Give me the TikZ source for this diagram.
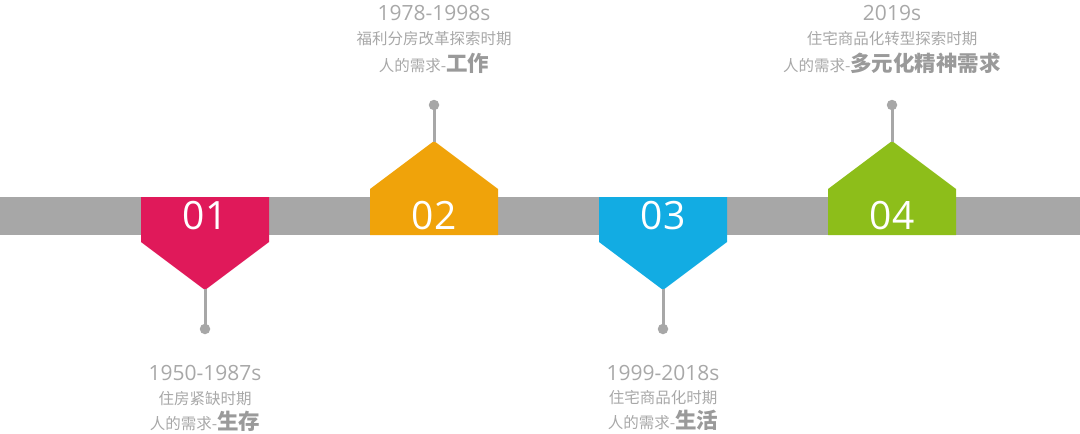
\documentclass[tikz,border=0pt]{standalone}
\usepackage{fontspec}
\setmainfont{Open Sans}
\newfontfamily\cjk{Noto Sans CJK SC}
\definecolor{barg}{HTML}{A7A7A7}
\definecolor{txtg}{HTML}{A8A8A8}
\definecolor{boldg}{HTML}{9A9A9A}
\definecolor{cpink}{HTML}{E0195A}
\definecolor{corange}{HTML}{F0A30A}
\definecolor{cblue}{HTML}{12ACE3}
\definecolor{cgreen}{HTML}{8DBE1A}
\tikzset{
  numtxt/.style={text=white, font=\fontsize{39}{39}\selectfont, inner sep=0pt},
  yeartxt/.style={text=txtg, font=\fontsize{21}{21}\selectfont, inner sep=0pt},
  eratxt/.style={text=txtg, font=\cjk\fontsize{15.5}{15.5}\selectfont, inner sep=0pt},
  needtxt/.style={text=txtg, font=\cjk\fontsize{15.5}{15.5}\selectfont, inner sep=0pt},
  stem/.style={draw=barg, line width=3pt},
  dotnode/.style={circle, fill=barg, minimum size=10.5pt, inner sep=0pt},
}
\newcommand{\bneed}[1]{{\bfseries\color{boldg}\fontsize{21.5}{21.5}\selectfont #1}}
\begin{document}
\begin{tikzpicture}[x=1pt,y=-1pt]
\useasboundingbox (0,0) rectangle (1080,434);
\fill[barg] (0,197) rectangle (1080,235);

% 01 (down)
\fill[cpink] (141,197) -- (269,197) -- (269,242) -- (205,290) -- (141,242) -- cycle;
\coordinate (t1) at (205,289);
\node[numtxt] (n1) at (205,216) {01};
\node[dotnode] (d1) at (205,329) {};
\draw[stem] (t1) -- (d1.center);
\node[yeartxt] (y1) at (205,373) {1950-1987s};
\node[eratxt] (e1) at (205,399) {住房紧缺时期};
\node[needtxt] (h1) at (205,421) {人的需求-\bneed{生存}};

% 02 (up)
\fill[corange] (370,235) -- (498,235) -- (498,189) -- (434,141) -- (370,189) -- cycle;
\coordinate (t2) at (434,142);
\node[numtxt] (n2) at (434,216) {02};
\node[dotnode] (d2) at (434,105) {};
\draw[stem] (t2) -- (d2.center);
\node[yeartxt] (y2) at (434,13) {1978-1998s};
\node[eratxt] (e2) at (434,39) {福利分房改革探索时期};
\node[needtxt] (h2) at (434,63) {人的需求-\bneed{工作}};

% 03 (down)
\fill[cblue] (599,197) -- (727,197) -- (727,242) -- (663,290) -- (599,242) -- cycle;
\coordinate (t3) at (663,289);
\node[numtxt] (n3) at (663,216) {03};
\node[dotnode] (d3) at (663,329) {};
\draw[stem] (t3) -- (d3.center);
\node[yeartxt] (y3) at (663,373) {1999-2018s};
\node[eratxt] (e3) at (663,398) {住宅商品化时期};
\node[needtxt] (h3) at (663,420) {人的需求-\bneed{生活}};

% 04 (up)
\fill[cgreen] (828,235) -- (956,235) -- (956,189) -- (892,141) -- (828,189) -- cycle;
\coordinate (t4) at (892,142);
\node[numtxt] (n4) at (892,216) {04};
\node[dotnode] (d4) at (892,105) {};
\draw[stem] (t4) -- (d4.center);
\node[yeartxt] (y4) at (892,13) {2019s};
\node[eratxt] (e4) at (892,39) {住宅商品化转型探索时期};
\node[needtxt] (h4) at (892,63) {人的需求-\bneed{多元化精神需求}};
\end{tikzpicture}
\end{document}
